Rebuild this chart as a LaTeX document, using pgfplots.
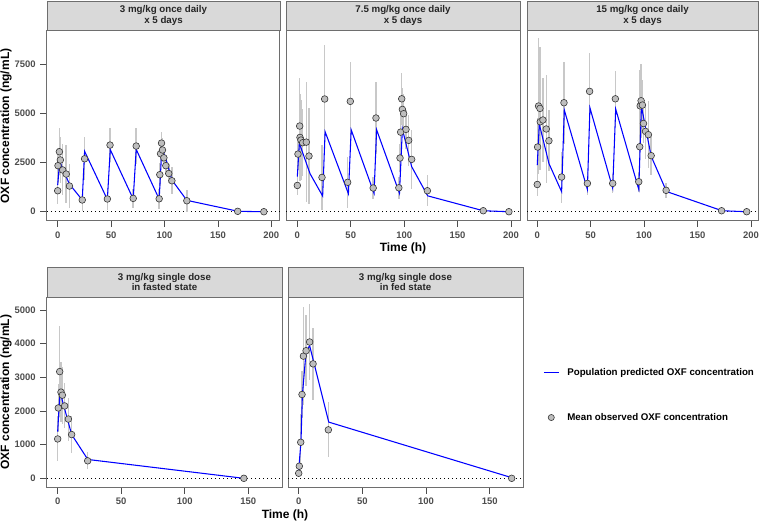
\documentclass[border=0pt]{standalone}
\usepackage{fontspec}
\setmainfont{Liberation Sans}
\usepackage{pgfplots}
\usepackage{pgfplotstable}
\pgfplotsset{compat=1.18}

\definecolor{stripgray}{RGB}{217,217,217}
\definecolor{boxgray}{RGB}{110,110,110}
\definecolor{ptgray}{RGB}{190,190,190}
\definecolor{ptedge}{RGB}{55,55,55}
\definecolor{barc}{RGB}{200,200,200}
\definecolor{ticklab}{RGB}{77,77,77}
\definecolor{predblue}{RGB}{0,0,255}

% observed: time, mean, sd  /  predicted: time, conc
\pgfplotstableread{
x y e
0 1070 700
0.3 2350 900
1.6 3060 1190
2.5 2640 1190
4.7 2130 1300
8 1920 1500
11 1310 1100
23 600 550
25.2 2700 1100
46.5 650 560
49 3400 850
70.7 680 500
73.5 3350 930
95 660 500
95.6 1890 600
96.3 2960 700
97.2 3500 580
98.1 3150 600
99.4 2750 500
101.2 2350 500
104 1950 500
106.9 1580 700
120.9 560 550
168.5 20 30
193 0 0
}\obsA
\pgfplotstableread{
x y
0 1360
1.9 2580
5 2150
11 1410
23 600
25.2 3080
46.5 620
49.2 3170
70.7 650
73.5 3180
95 640
97.5 3220
101.2 2720
106.9 1620
120.9 580
169 20
193 0
}\predA

\pgfplotstableread{
x y e
0 1340 500
0.6 2940 800
2.2 4370 2430
2.5 3790 2200
3.4 3655 2050
5 3520 1700
8.4 3550 3050
10.9 2840 2430
23.1 1750 1650
25.6 5750 2750
47.1 1500 1300
49.6 5630 2020
71 1210 550
73.6 4780 1850
95 1220 550
96.1 2740 700
96.7 4060 900
97.7 5760 1330
98.3 5220 1100
99.5 5000 1000
101.7 4200 1000
104.2 3640 1300
107 2670 1500
121.7 1070 800
174 50 30
198 0 0
}\obsB
\pgfplotstableread{
x y
0 1790
1.9 3490
11.9 1940
23.7 800
26 4080
47.8 920
50.4 4180
71.8 940
74.2 4180
95.6 940
98.3 4220
107 2300
122 810
174 50
198 0
}\predB

\pgfplotstableread{
x y e
0 1390 600
0.3 3300 1500
1.2 5390 3450
2.5 5270 3140
2.8 4590 1700
5.3 4680 2120
8.4 4220 2750
10.9 3620 1560
22.8 1770 1300
25 5560 2100
46.9 1445 600
49 6140 1940
70.6 1445 500
73.1 5760 1430
95 1530 500
95.9 3315 800
96.3 5400 1820
97.2 5660 1900
98.4 5440 1300
99.4 4500 1000
101.3 4100 1400
104 3930 1700
106.6 2860 1000
120.6 1090 400
172.5 50 30
196 0 0
}\obsC
\pgfplotstableread{
x y
0 2380
1.9 4470
11 2450
22.8 1020
25.3 5190
46.9 1140
49.3 5300
70.6 1200
73.4 5240
95 1140
97.5 5370
106.6 2830
121 1030
173 50
196 0
}\predC

\pgfplotstableread{
x y e
0 1170 670
0.5 2090 700
1.6 3170 1340
2.6 2560 900
3.7 2470 850
5.5 2150 670
8.4 1760 640
11 1300 550
23.6 520 250
146.5 0 0
}\obsD
\pgfplotstableread{
x y
0 1390
1.8 2570
11 1300
23.7 560
146.5 0
}\predD

\pgfplotstableread{
x y e
0 150 100
0.5 360 200
1.6 1070 850
2.6 2490 700
3.7 3630 1450
5.8 3790 1050
8.6 4050 1130
11.3 3400 1080
23.3 1440 820
167.3 0 0
}\obsE
\pgfplotstableread{
x y
0 250
1.8 1090
2.9 2480
5.8 3770
8.6 3940
23.6 1670
167.3 20
}\predE

\pgfplotsset{
  panel/.style={scale only axis, anchor=north west,
    axis line style={draw=boxgray, line width=0.75pt},
    tick align=outside, major tick length=5pt,
    tick style={draw=ticklab, line width=0.6pt},
    xtick pos=lower, ytick pos=lower,
    tick label style={font=\fontsize{7.1}{8}\selectfont\bfseries, text=ticklab},
    /pgf/number format/assume math mode=true,
    /pgf/number format/1000 sep={}},
  toprow/.style={height=142.5pt, ymin=-423, ymax=9270,
    xtick={0,50,100,150,200}, ytick={0,2500,5000,7500}},
  botrow/.style={height=142.5pt, ymin=-258, ymax=5386,
    xtick={0,50,100,150}, ytick={0,1000,2000,3000,4000,5000}},
  zero/.style={black, line width=0.6pt, dash pattern=on 0.75pt off 2.25pt},
  bars/.style={only marks, mark=none,
    error bars/y dir=both, error bars/y explicit, error bars/error mark=none,
    error bars/error bar style={draw=barc, line width=1.1pt}},
  pred/.style={draw=predblue, line width=0.8pt, mark=none},
  obs/.style={only marks, mark=*, mark size=2.5pt,
    mark options={fill=ptgray, draw=ptedge, line width=0.45pt}},
}

\newcommand{\strip}[5]{%
  \draw[fill=stripgray, draw=boxgray, line width=0.75pt]
    ({#1*0.75pt},{-#3*0.75pt}) rectangle ({#2*0.75pt},{-#4*0.75pt});
  \node[align=center, font=\fontsize{7.3}{8}\selectfont\bfseries, text=black!85]
    at ({(#1+#2)/2*0.75pt},{-(#3+#4)/2*0.75pt}) {#5};}

\begin{document}
\begin{tikzpicture}
\useasboundingbox (0,0) rectangle (570pt,-391.5pt);

\begin{axis}[panel, toprow, at={(35.25pt,-22.5pt)}, width=174.75pt,
  xmin=-10, xmax=208.1]
  \addplot[zero] coordinates {(-10,0) (208.1,0)};
  \addplot[bars] table[x=x, y=y, y error=e] {\obsA};
  \addplot[obs] table[x=x, y=y] {\obsA};
  \addplot[pred] table[x=x, y=y] {\predA};
\end{axis}

\begin{axis}[panel, toprow, at={(214.5pt,-22.5pt)}, width=175.5pt,
  xmin=-10.6, xmax=208.4, ytick=\empty]
  \addplot[zero] coordinates {(-10.6,0) (208.4,0)};
  \addplot[bars] table[x=x, y=y, y error=e] {\obsB};
  \addplot[obs] table[x=x, y=y] {\obsB};
  \addplot[pred] table[x=x, y=y] {\predB};
\end{axis}

\begin{axis}[panel, toprow, at={(395.25pt,-22.5pt)}, width=173.25pt,
  xmin=-9.6, xmax=206.6, ytick=\empty]
  \addplot[zero] coordinates {(-9.6,0) (206.6,0)};
  \addplot[bars] table[x=x, y=y, y error=e] {\obsC};
  \addplot[obs] table[x=x, y=y] {\obsC};
  \addplot[pred] table[x=x, y=y] {\predC};
\end{axis}

\begin{axis}[panel, botrow, at={(35.25pt,-222.75pt)}, width=176.25pt,
  xmin=-8.4, xmax=176.5]
  \addplot[zero] coordinates {(-8.4,0) (176.5,0)};
  \addplot[bars] table[x=x, y=y, y error=e] {\obsD};
  \addplot[obs] table[x=x, y=y] {\obsD};
  \addplot[pred] table[x=x, y=y] {\predD};
\end{axis}

\begin{axis}[panel, botrow, at={(216pt,-222.75pt)}, width=176.25pt,
  xmin=-8.4, xmax=176.2, ytick=\empty]
  \addplot[zero] coordinates {(-8.4,0) (176.2,0)};
  \addplot[bars] table[x=x, y=y, y error=e] {\obsE};
  \addplot[obs] table[x=x, y=y] {\obsE};
  \addplot[pred] table[x=x, y=y] {\predE};
\end{axis}

% legend
\begin{axis}[scale only axis, anchor=north west, at={(0pt,0pt)},
  width=570pt, height=391.5pt, hide axis, xmin=0, xmax=1, ymin=0, ymax=1,
  legend cell align=left,
  legend style={at={(0.7145,0.2433)}, anchor=west, draw=none, fill=none,
    inner sep=0pt, row sep=27pt, column sep=6pt,
    nodes={inner sep=0pt, font=\fontsize{7.3}{8}\selectfont\bfseries}}]
  \addlegendimage{legend image code/.code={\draw[predblue, line width=0.8pt] (0pt,0pt) -- (11.25pt,0pt);}}
  \addlegendentry{Population predicted OXF concentration}
  \addlegendimage{legend image code/.code={\draw[fill=ptgray, draw=ptedge, line width=0.45pt] (5.6pt,0pt) circle (2.3pt); \path (11.25pt,0pt);}}
  \addlegendentry{Mean observed OXF concentration}
\end{axis}

\strip{47}{280}{1.5}{30}{3 mg/kg once daily\\x 5 days}
\strip{286}{520}{1.5}{30}{7.5 mg/kg once daily\\x 5 days}
\strip{527}{758}{1.5}{30}{15 mg/kg once daily\\x 5 days}
\strip{47}{282}{267.3}{297}{3 mg/kg single dose\\in fasted state}
\strip{288}{523}{267.3}{297}{3 mg/kg single dose\\in fed state}

\node[font=\fontsize{9}{10}\selectfont\bfseries] at (302.25pt,-186pt) {Time (h)};
\node[font=\fontsize{9}{10}\selectfont\bfseries] at (213.75pt,-386.25pt) {Time (h)};
\node[font=\fontsize{9}{10}\selectfont\bfseries, rotate=90] at (4.5pt,-94.5pt) {OXF concentration (ng/mL)};
\node[font=\fontsize{9}{10}\selectfont\bfseries, rotate=90] at (4.5pt,-294pt) {OXF concentration (ng/mL)};
\end{tikzpicture}
\end{document}
